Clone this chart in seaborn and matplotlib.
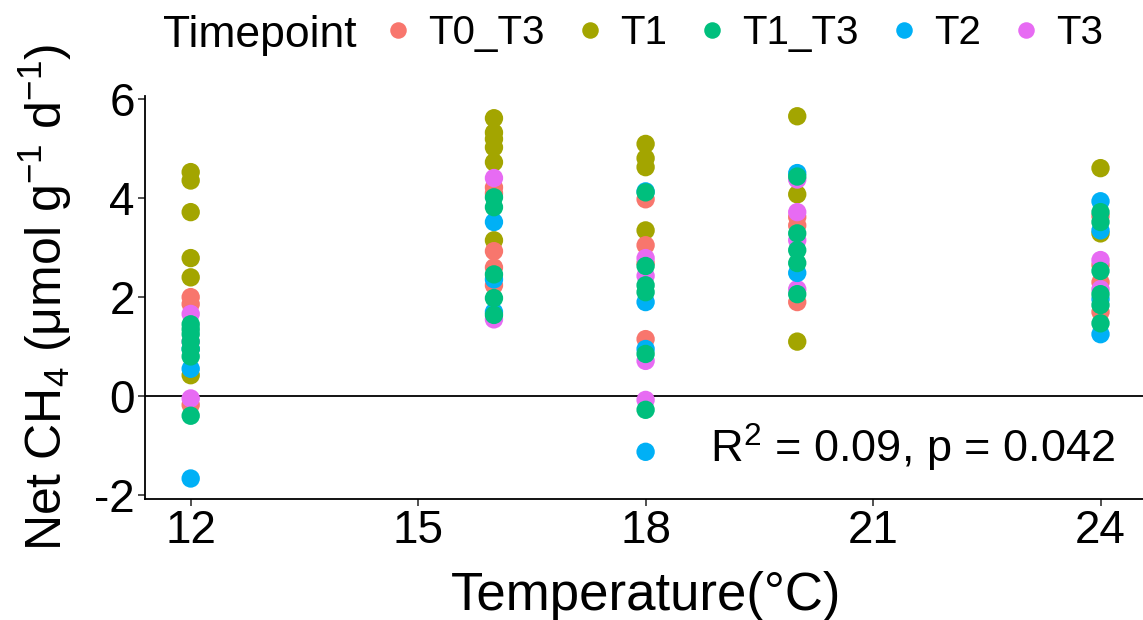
import matplotlib
matplotlib.use("Agg")
import matplotlib.pyplot as plt
import seaborn as sns
import pandas as pd

# ---- data ----
temperatures = [12, 16, 18, 20, 24]
timepoints = ["T0_T3", "T1", "T1_T3", "T2", "T3"]
palette = ["#F8766D", "#A3A500", "#00BF7D", "#00B0F6", "#E76BF3"]

t1 = {12: [4.53, 4.36, 3.72, 2.79, 2.40, 0.42],
      16: [5.62, 5.33, 5.20, 5.03, 4.73, 3.15],
      18: [5.10, 4.81, 4.63, 3.35],
      20: [5.66, 4.08, 1.10],
      24: [4.61, 3.29]}
t0_t3 = {12: [2.00, 1.86, -0.18],
         16: [4.22, 4.10, 2.93, 2.60, 2.24],
         18: [3.98, 3.05, 2.69, 1.15],
         20: [3.62, 3.45, 1.90],
         24: [3.64, 2.65, 2.30, 1.70]}
t3 = {12: [1.66, 1.10, -0.05],
      16: [4.41, 1.55],
      18: [2.79, 2.43, 0.71, -0.08],
      20: [4.38, 3.72, 3.15, 2.16],
      24: [2.75, 2.16]}
t2 = {12: [0.55, 0.95, -1.67],
      16: [3.52, 2.36, 1.70],
      18: [4.14, 1.90, 0.95, -1.13],
      20: [4.51, 2.49],
      24: [3.94, 3.35, 1.96, 1.25]}
t1_t3 = {12: [1.45, 1.35, 1.25, 1.10, 0.95, 0.80, -0.40],
         16: [4.02, 3.82, 2.46, 1.98, 1.64],
         18: [4.12, 2.63, 2.24, 2.10, 0.85, -0.28],
         20: [4.44, 3.29, 2.95, 2.69, 2.06],
         24: [3.72, 3.52, 2.53, 2.06, 1.84, 1.47]}

annotation = "R$^{2}$ = 0.09, p = 0.042"

# drawing order (later drawn on top)
draw_order = [("T1", t1), ("T0_T3", t0_t3), ("T3", t3), ("T2", t2), ("T1_T3", t1_t3)]
rows = []
for name, series in draw_order:
    for temp in temperatures:
        for v in series.get(temp, []):
            rows.append({"Temperature": temp, "CH4": v, "Timepoint": name})
df = pd.DataFrame(rows)

# ---- style ----
sns.set_theme(style="white")
plt.rcParams["font.family"] = ["Liberation Sans", "DejaVu Sans"]
plt.rcParams["mathtext.fontset"] = "custom"
plt.rcParams["mathtext.rm"] = "Liberation Sans"
plt.rcParams["mathtext.it"] = "Liberation Sans:italic"
plt.rcParams["mathtext.default"] = "regular"
plt.rcParams["axes.unicode_minus"] = False
plt.rcParams["text.color"] = "black"
plt.rcParams["axes.labelcolor"] = "black"
plt.rcParams["xtick.color"] = "black"
plt.rcParams["ytick.color"] = "black"

fig = plt.figure(figsize=(11.43, 6.2), dpi=100)
W, H = 1143, 620
ax_left, ax_right, ax_top, ax_bottom = 145.2, 1146.0, 96.0, 499.0
ax = fig.add_axes([ax_left / W, 1 - ax_bottom / H, (ax_right - ax_left) / W, (ax_bottom - ax_top) / H])

ax.axhline(0, color="black", lw=1.3, zorder=1)
sns.scatterplot(data=df, x="Temperature", y="CH4", hue="Timepoint",
                hue_order=timepoints, palette=palette, s=175, linewidth=0,
                alpha=1, ax=ax, zorder=3)

ax.set_xlim(11.4, 24.6)
ax.set_ylim(-2.085, 6.07)
ax.set_xticks([12, 15, 18, 21, 24])
ax.set_yticks([-2, 0, 2, 4, 6])

for side in ["top", "right"]:
    ax.spines[side].set_visible(False)
for side in ["left", "bottom"]:
    ax.spines[side].set_color("black")
    ax.spines[side].set_linewidth(1.3)
ax.tick_params(axis="both", direction="out", length=5, width=1.2, color="#333333",
               labelsize=33, labelcolor="black", pad=2.5, left=True, bottom=True)

ax.set_xlabel("Temperature(°C)", fontsize=38)
ax.xaxis.label.set_va("baseline")
ax.xaxis.set_label_coords(0.5, (ax_bottom - 610) / (ax_bottom - ax_top))

ax.set_ylabel("Net CH$_{4}$ ($\\mu$mol g$^{-1}$ d$^{-1}$)", fontsize=36)
ax.yaxis.label.set_va("baseline")
ax.yaxis.set_label_coords((62 - ax_left) / (ax_right - ax_left), 0.5)

ax.text(0.969, (ax_bottom - 463) / (ax_bottom - ax_top), annotation, transform=ax.transAxes,
        ha="right", va="baseline", fontsize=32.5)

sns.move_legend(ax, "center left", bbox_to_anchor=(382 / W, 1 - 33 / H),
                bbox_transform=fig.transFigure, ncol=5, title=None, frameon=False,
                fontsize=29, handletextpad=0.35, columnspacing=0.72, handlelength=0.8,
                borderpad=0, borderaxespad=0, markerscale=0.9)
fig.text(163 / W, 1 - 47 / H, "Timepoint", fontsize=32, ha="left", va="baseline")

fig.savefig("out.png", dpi=100)
